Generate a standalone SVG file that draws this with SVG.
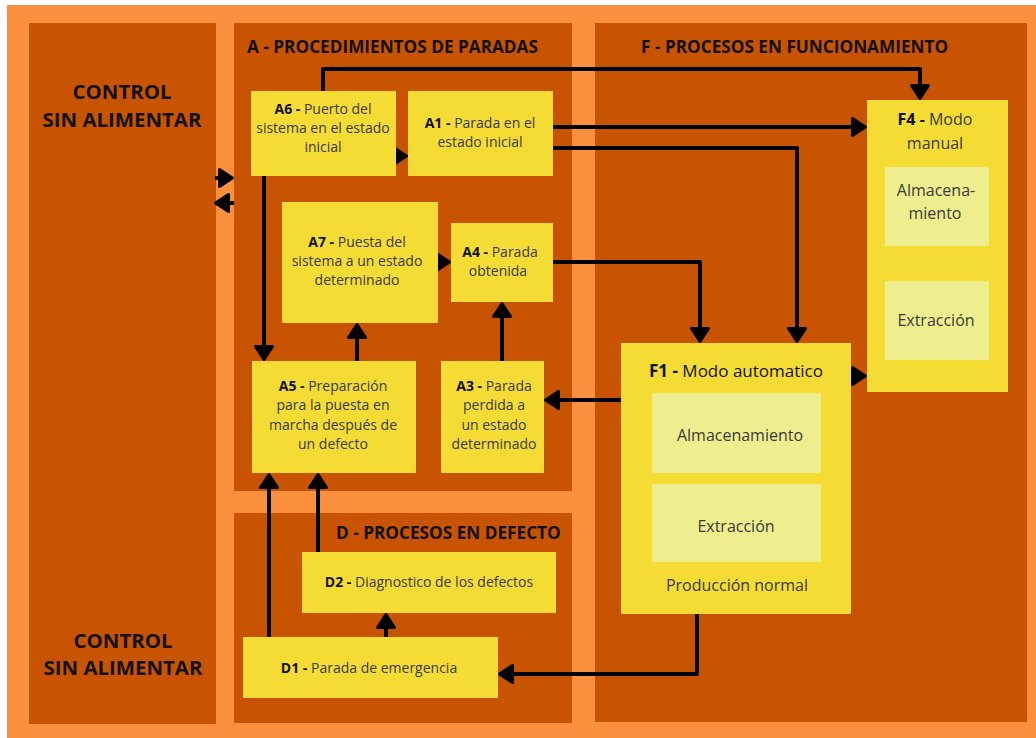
<svg xmlns="http://www.w3.org/2000/svg" width="1036" height="738" viewBox="0 0 1036 738">
<style>
.bg{fill:#FB913E}
.panel{fill:#C85300}
.node{fill:#F5DC34}
.inner{fill:#EEEE8E}
.title{font-family:"Open Sans","Liberation Sans",sans-serif;font-weight:700;font-size:17.2px;fill:#111}
.ctrl{font-family:"Open Sans","Liberation Sans",sans-serif;font-weight:700;font-size:20.4px;fill:#111;text-anchor:middle}
.t{font-family:"Open Sans","Liberation Sans",sans-serif;font-size:14px;fill:#3a3a3a;text-anchor:middle}
.t16{font-family:"Open Sans","Liberation Sans",sans-serif;font-size:16px;fill:#3a3a3a;text-anchor:middle}
.b{font-weight:700;fill:#111}
.c{fill:none;stroke:#000;stroke-width:4;stroke-linejoin:round}
</style>
<defs>
<marker id="ah" viewBox="0 0 16 20" refX="8" refY="10" markerWidth="16" markerHeight="20" markerUnits="userSpaceOnUse" orient="auto">
<path d="M1.5,1.5 L14.5,10 L1.5,18.5 z" fill="#000" stroke="#000" stroke-width="3" stroke-linejoin="round"/>
</marker>
</defs>
<rect x="7" y="5" width="1029" height="733" class="bg"/>
<g id="panels">
<rect x="29" y="23" width="187" height="701" class="panel"/>
<rect x="234" y="23" width="338" height="468" class="panel"/>
<rect x="234" y="513" width="338" height="210" class="panel"/>
<rect x="595" y="23" width="432" height="699" class="panel"/>
</g>
<g id="titles">
<text x="122" y="99" class="ctrl">CONTROL</text>
<text x="122" y="127" class="ctrl">SIN ALIMENTAR</text>
<text x="123" y="648" class="ctrl">CONTROL</text>
<text x="123" y="675" class="ctrl">SIN ALIMENTAR</text>
<text x="247" y="53" class="title">A - PROCEDIMIENTOS DE PARADAS</text>
<text x="641" y="53" class="title">F - PROCESOS EN FUNCIONAMIENTO</text>
<text x="336" y="539" class="title">D - PROCESOS EN DEFECTO</text>
</g>
<g id="connectors">
<path class="c" d="M323,91 V69 H920 V92" marker-end="url(#ah)"/>
<path class="c" d="M553,127 H859" marker-end="url(#ah)"/>
<path class="c" d="M553,148 H797 V335" marker-end="url(#ah)"/>
<path class="c" d="M553,262 H700 V335" marker-end="url(#ah)"/>
<path class="c" d="M851,376 H859" marker-end="url(#ah)"/>
<path class="c" d="M621,400 H552" marker-end="url(#ah)"/>
<path class="c" d="M697,614 V674 H506" marker-end="url(#ah)"/>
<path class="c" d="M396,156 H400" marker-end="url(#ah)"/>
<path class="c" d="M264,176 V353" marker-end="url(#ah)"/>
<path class="c" d="M357,361 V331" marker-end="url(#ah)"/>
<path class="c" d="M502,361 V310" marker-end="url(#ah)"/>
<path class="c" d="M438,262 H443" marker-end="url(#ah)"/>
<path class="c" d="M269,637 V481" marker-end="url(#ah)"/>
<path class="c" d="M318,552 V481" marker-end="url(#ah)"/>
<path class="c" d="M386,637 V621" marker-end="url(#ah)"/>
<path class="c" d="M215,178 H226" marker-end="url(#ah)"/>
<path class="c" d="M234,203 H222" marker-end="url(#ah)"/>
</g>
<g id="A6">
<rect x="251" y="91" width="145" height="85" class="node"/>
<text class="t"><tspan x="323" y="114"><tspan class="b">A6 -</tspan> Puerto del</tspan><tspan x="323" y="133">sistema en el estado</tspan><tspan x="323" y="152">inicial</tspan></text>
</g>
<g id="A1">
<rect x="408" y="91" width="145" height="85" class="node"/>
<text class="t"><tspan x="480" y="128"><tspan class="b">A1 -</tspan> Parada en el</tspan><tspan x="480" y="147">estado inicial</tspan></text>
</g>
<g id="A7">
<rect x="282" y="202" width="156" height="121" class="node"/>
<text class="t"><tspan x="357" y="247"><tspan class="b">A7 -</tspan> Puesta del</tspan><tspan x="357" y="266">sistema a un estado</tspan><tspan x="357" y="285">determinado</tspan></text>
</g>
<g id="A4">
<rect x="451" y="223" width="102" height="79" class="node"/>
<text class="t"><tspan x="500" y="257"><tspan class="b">A4 -</tspan> Parada</tspan><tspan x="498" y="276">obtenida</tspan></text>
</g>
<g id="A5">
<rect x="252" y="361" width="164" height="112" class="node"/>
<text class="t"><tspan x="333" y="391"><tspan class="b">A5 -</tspan>  Preparación</tspan><tspan x="333" y="410">para la puesta en</tspan><tspan x="333" y="430">marcha después de</tspan><tspan x="333" y="449">un defecto</tspan></text>
</g>
<g id="A3">
<rect x="441" y="361" width="103" height="112" class="node"/>
<text class="t"><tspan x="494" y="391"><tspan class="b">A3 -</tspan> Parada</tspan><tspan x="494" y="410">perdida a</tspan><tspan x="494" y="430">un estado</tspan><tspan x="494" y="449">determinado</tspan></text>
</g>
<g id="D2">
<rect x="302" y="552" width="254" height="61" class="node"/>
<text class="t" x="429" y="587"><tspan class="b">D2 -</tspan>  Diagnostico de los defectos</text>
</g>
<g id="D1">
<rect x="243" y="637" width="255" height="61" class="node"/>
<text class="t" x="369" y="673"><tspan class="b">D1 -</tspan>  Parada de emergencia</text>
</g>
<g id="F4">
<rect x="867" y="100" width="141" height="292" class="node"/>
<text class="t16"><tspan x="935" y="125"><tspan class="b">F4 -</tspan> Modo</tspan><tspan x="935" y="149">manual</tspan></text>
<rect x="885" y="167" width="104" height="79" class="inner"/>
<text class="t16"><tspan x="936" y="196">Almacena-</tspan><tspan x="935" y="219">miento</tspan></text>
<rect x="885" y="281" width="104" height="79" class="inner"/>
<text class="t16" x="936" y="326">Extracción</text>
</g>
<g id="F1">
<rect x="621" y="343" width="230" height="271" class="node"/>
<text class="t16" x="736" y="377" style="font-size:17px;fill:#111"><tspan class="b">F1 -</tspan> Modo automatico</text>
<rect x="652" y="393" width="169" height="80" class="inner"/>
<text class="t16" x="740" y="441">Almacenamiento</text>
<rect x="652" y="484" width="169" height="78" class="inner"/>
<text class="t16" x="736" y="532">Extracción</text>
<text class="t16" x="737" y="591">Producción normal</text>
</g>
</svg>
